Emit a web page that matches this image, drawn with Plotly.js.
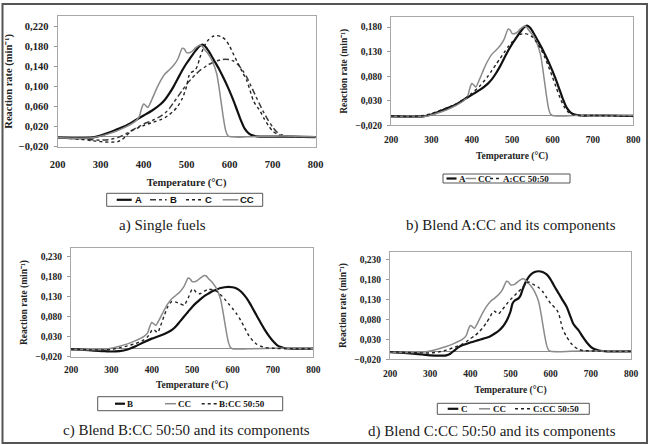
<!DOCTYPE html>
<html>
<head>
<meta charset="utf-8">
<script src="https://cdn.plot.ly/plotly-3.0.1.min.js"></script>
<style>
  html, body { margin: 0; padding: 0; background: #fff; }
  #chart { width: 651px; height: 445px; }
</style>
</head>
<body>
<div id="chart"></div>
<script>
// Reaction rate (min^-1) versus temperature (°C) for single fuels and 50:50 blends.

// --- Single fuels ---
const tA = [200, 250, 280, 300, 320, 340, 360, 380, 400, 420, 440, 450, 460, 470, 480, 490, 500, 510, 520, 530, 537, 545, 555, 565, 575, 585, 595, 605, 615, 625, 635, 645, 655, 670, 700, 750, 800];
const rA = [-0.002, -0.003, -0.002, 0.002, 0.008, 0.015, 0.022, 0.032, 0.042, 0.052, 0.065, 0.074, 0.086, 0.100, 0.116, 0.132, 0.146, 0.158, 0.170, 0.180, 0.183, 0.178, 0.165, 0.150, 0.135, 0.118, 0.100, 0.080, 0.058, 0.035, 0.016, 0.006, 0.002, 0.000, 0.000, 0.000, -0.001];

const tB = [200, 250, 280, 300, 320, 340, 360, 380, 400, 420, 440, 450, 460, 470, 480, 490, 500, 510, 520, 530, 540, 550, 560, 570, 580, 590, 600, 610, 620, 630, 640, 650, 660, 670, 680, 690, 700, 710, 720, 730, 750, 800];
const rB = [-0.002, -0.004, -0.006, -0.007, -0.006, -0.002, 0.006, 0.016, 0.025, 0.032, 0.041, 0.047, 0.056, 0.068, 0.080, 0.092, 0.104, 0.114, 0.123, 0.131, 0.137, 0.143, 0.147, 0.151, 0.153, 0.154, 0.153, 0.150, 0.143, 0.132, 0.118, 0.100, 0.082, 0.064, 0.047, 0.032, 0.019, 0.009, 0.004, 0.001, 0.000, 0.000];

const tC = [200, 250, 280, 300, 320, 340, 350, 360, 370, 380, 400, 420, 440, 450, 460, 470, 480, 490, 500, 505, 510, 520, 525, 530, 540, 550, 560, 570, 580, 590, 600, 610, 620, 630, 640, 650, 655, 660, 665, 670, 680, 690, 700, 710, 720, 740, 800];
const rC = [-0.002, -0.005, -0.008, -0.010, -0.011, -0.010, -0.006, 0.002, 0.010, 0.015, 0.022, 0.028, 0.034, 0.038, 0.044, 0.051, 0.061, 0.076, 0.100, 0.120, 0.127, 0.133, 0.140, 0.155, 0.178, 0.192, 0.199, 0.201, 0.199, 0.193, 0.180, 0.162, 0.145, 0.128, 0.111, 0.085, 0.072, 0.064, 0.058, 0.052, 0.036, 0.022, 0.011, 0.005, 0.002, 0.000, 0.000];

const tCC = [200, 250, 280, 300, 320, 340, 360, 380, 390, 395, 400, 405, 410, 420, 430, 440, 450, 460, 470, 480, 490, 495, 500, 510, 520, 530, 535, 540, 550, 560, 570, 575, 580, 585, 590, 595, 600, 620, 650, 700, 750, 800];
const rCC = [-0.002, -0.003, -0.002, 0.001, 0.006, 0.012, 0.020, 0.030, 0.040, 0.055, 0.065, 0.062, 0.058, 0.075, 0.095, 0.112, 0.125, 0.133, 0.142, 0.155, 0.176, 0.174, 0.167, 0.168, 0.176, 0.182, 0.181, 0.175, 0.165, 0.150, 0.125, 0.100, 0.070, 0.040, 0.015, 0.003, 0.000, -0.001, 0.000, 0.001, 0.001, 0.000];

// --- 50:50 blends ---
const tACC = [200, 250, 280, 300, 320, 340, 360, 380, 400, 420, 440, 450, 460, 470, 480, 490, 500, 510, 520, 530, 540, 550, 560, 570, 580, 590, 600, 610, 620, 630, 640, 650, 670, 700, 800];
const rACC = [-0.001, -0.002, 0.000, 0.004, 0.010, 0.016, 0.023, 0.033, 0.045, 0.060, 0.080, 0.092, 0.104, 0.116, 0.128, 0.140, 0.150, 0.159, 0.165, 0.167, 0.165, 0.160, 0.150, 0.137, 0.120, 0.100, 0.078, 0.055, 0.033, 0.016, 0.006, 0.002, 0.000, 0.000, -0.002];

const tBCC = [200, 250, 280, 300, 320, 340, 360, 380, 390, 400, 405, 410, 415, 420, 430, 440, 450, 460, 470, 480, 490, 500, 505, 510, 520, 530, 540, 550, 560, 570, 580, 590, 600, 610, 620, 630, 640, 650, 660, 670, 680, 700, 750, 800];
const rBCC = [-0.001, -0.003, -0.003, -0.002, 0.002, 0.007, 0.013, 0.022, 0.030, 0.045, 0.048, 0.043, 0.040, 0.052, 0.080, 0.105, 0.118, 0.116, 0.112, 0.108, 0.126, 0.148, 0.147, 0.140, 0.137, 0.143, 0.148, 0.147, 0.143, 0.135, 0.124, 0.112, 0.100, 0.087, 0.071, 0.052, 0.033, 0.020, 0.011, 0.006, 0.003, 0.001, 0.000, 0.000];

const tCCC = [200, 250, 280, 300, 320, 340, 360, 380, 390, 400, 410, 420, 430, 440, 450, 455, 460, 465, 470, 480, 490, 500, 510, 520, 530, 540, 545, 550, 560, 570, 580, 590, 600, 610, 615, 620, 625, 630, 640, 650, 660, 670, 680, 700, 750, 800];
const rCCC = [-0.001, -0.003, -0.004, -0.004, -0.002, 0.003, 0.010, 0.018, 0.024, 0.032, 0.038, 0.047, 0.058, 0.072, 0.088, 0.098, 0.101, 0.097, 0.094, 0.105, 0.118, 0.130, 0.140, 0.150, 0.160, 0.172, 0.174, 0.172, 0.166, 0.160, 0.150, 0.135, 0.120, 0.110, 0.104, 0.095, 0.075, 0.056, 0.036, 0.021, 0.011, 0.005, 0.002, 0.001, 0.000, 0.000];

// Axis ticks and text
const xTicks = [200, 300, 400, 500, 600, 700, 800];
const yTicksA = [-0.02, 0.02, 0.06, 0.10, 0.14, 0.18, 0.22];
const yTicksB = [-0.02, 0.03, 0.08, 0.13, 0.18];
const yTicksCD = [-0.02, 0.03, 0.08, 0.13, 0.18, 0.23];
const xTitle = "Temperature (°C)";
const yTitle = "Reaction rate (min⁻¹)";
const captions = [
  "a) Single fuels",
  "b) Blend A:CC and its components",
  "c) Blend B:CC 50:50 and its components",
  "d) Blend C:CC 50:50 and its components"
];

const W = 651, H = 445;
const px = v => v / W;
const py = v => 1 - v / H;

const SERIF = "Liberation Serif, Times New Roman, serif";
const SANS = "Liberation Sans, Arial, sans-serif";

const styleThick = { color: "#111", width: 2.2, dash: "solid" };
const styleGray = { color: "#8a8a8a", width: 1.5, dash: "solid" };
const styleDot = { color: "#222", width: 1.4, dash: "dot" };
const styleDash = { color: "#3a3a3a", width: 1.5, dash: "6px,3px,3px,3px" };

function line(x, y, name, style, n) {
  return {
    type: "scatter", mode: "lines", x: x, y: y, name: name,
    line: { color: style.color, width: style.width, dash: style.dash, shape: "spline", smoothing: 0.6 },
    xaxis: n === 1 ? "x" : "x" + n,
    yaxis: n === 1 ? "y" : "y" + n,
    showlegend: false,
    hoverinfo: "skip"
  };
}

const traces = [
  line(tA, rA, "A", styleThick, 1),
  line(tB, rB, "B", styleDash, 1),
  line(tC, rC, "C", styleDot, 1),
  line(tCC, rCC, "CC", styleGray, 1),

  line(tA, rA, "A", styleThick, 2),
  line(tCC, rCC, "CC", styleGray, 2),
  line(tACC, rACC, "A:CC 50:50", styleDot, 2),

  line(tB, rB, "B", styleThick, 3),
  line(tCC, rCC, "CC", styleGray, 3),
  line(tBCC, rBCC, "B:CC 50:50", styleDot, 3),

  line(tC, rC, "C", styleThick, 4),
  line(tCC, rCC, "CC", styleGray, 4),
  line(tCCC, rCCC, "C:CC 50:50", styleDot, 4)
];

function xAxis(domain, anchor, fs, labelGap, titleGap) {
  return {
    domain: domain, anchor: anchor, range: [200, 800],
    tickvals: xTicks, ticktext: xTicks.map(String), ticks: "",
    showline: true, mirror: true, linecolor: "#a8a8a8", linewidth: 1,
    showgrid: false, zeroline: false, ticklabelstandoff: labelGap,
    tickfont: { family: SERIF, size: fs, color: "#222", weight: "bold" },
    title: { text: xTitle, standoff: titleGap, font: { family: SERIF, size: fs, color: "#222", weight: "bold" } }
  };
}

function yAxis(domain, anchor, range, ticks, fs, titleGap) {
  return {
    domain: domain, anchor: anchor, range: range,
    tickvals: ticks, tickformat: ".3f", ticks: "outside", ticklen: 3, tickcolor: "#999",
    showline: true, mirror: true, linecolor: "#a8a8a8", linewidth: 1,
    showgrid: false, zeroline: true, zerolinecolor: "#8c8c8c", zerolinewidth: 1,
    ticklabelstandoff: 3,
    tickfont: { family: SERIF, size: fs, color: "#222", weight: "bold" },
    title: { text: yTitle, standoff: titleGap, font: { family: SERIF, size: fs, color: "#222", weight: "bold" } }
  };
}

// Legend boxes: frame, key samples and labels for each panel
const legends = [
  { box: [106.7, 262.7, 193.3, 206.3], cy: 199.8, font: { family: SANS, size: 9.5, color: "#111", weight: "bold" },
    items: [[116.7, 131.7, 133.5, 0], [150, 166.7, 168.5, 1], [186, 202.7, 203.8, 2], [222.7, 238.3, 239, 3]] },
  { box: [443, 570, 174, 183], cy: 178.5, font: { family: SERIF, size: 9, color: "#111", weight: "bold" },
    items: [[446.5, 456.5, 457.5, 4], [465.5, 476, 477, 5], [490, 500, 502, 6]] },
  { box: [97.7, 282.7, 396.7, 410.7], cy: 403.7, font: { family: SERIF, size: 9, color: "#111", weight: "bold" },
    items: [[115, 125, 126, 7], [165, 176, 176.7, 8], [201.7, 216.7, 218.3, 9]] },
  { box: [437.3, 589.3, 403.3, 414.3], cy: 408.8, font: { family: SERIF, size: 9, color: "#111", weight: "bold" },
    items: [[447.7, 458.3, 460, 10], [479, 490, 491.7, 11], [515, 531.7, 532.3, 12]] }
];

const shapes = [{
  type: "rect", xref: "paper", yref: "paper",
  x0: px(2.5), x1: px(647), y0: py(443), y1: py(4),
  line: { color: "#555", width: 2 }, layer: "below"
}];
const annotations = [
  [162.5, 225], [511, 225], [186.5, 430], [492, 431.5]
].map((p, i) => ({
  text: captions[i], xref: "paper", yref: "paper", x: px(p[0]), y: py(p[1]),
  xanchor: "center", yanchor: "middle", showarrow: false,
  font: { family: SERIF, size: 15, color: "#1a1a1a" }
}));

legends.forEach(lg => {
  shapes.push({
    type: "rect", xref: "paper", yref: "paper",
    x0: px(lg.box[0]), x1: px(lg.box[1]), y0: py(lg.box[3]), y1: py(lg.box[2]),
    line: { color: "#555", width: 1 }, fillcolor: "#fff", layer: "above"
  });
  lg.items.forEach(it => {
    const tr = traces[it[3]];
    shapes.push({
      type: "line", xref: "paper", yref: "paper",
      x0: px(it[0]), x1: px(it[1]), y0: py(lg.cy), y1: py(lg.cy),
      line: { color: tr.line.color, width: tr.line.width, dash: tr.line.dash }, layer: "above"
    });
    annotations.push({
      text: tr.name, xref: "paper", yref: "paper", x: px(it[2]), y: py(lg.cy),
      xanchor: "left", yanchor: "middle", showarrow: false, borderpad: 0,
      font: lg.font
    });
  });
});

const layout = {
  width: W, height: H,
  margin: { l: 0, r: 0, t: 0, b: 0 },
  paper_bgcolor: "#fff", plot_bgcolor: "#fff",
  separators: ",.",
  showlegend: false,
  xaxis: xAxis([px(57.5), px(315.7)], "y", 10.5, 8, 9),
  yaxis: yAxis([py(146.7), py(16)], "x", [-0.02, 0.24], yTicksA, 10.5, 4),
  xaxis2: xAxis([px(391), px(633.3)], "y2", 9.5, 5, 8),
  yaxis2: yAxis([py(125.3), py(17.3)], "x2", [-0.02, 0.20], yTicksB, 9.5, 5),
  xaxis3: xAxis([px(71), px(313.3)], "y3", 9.5, 4, 7),
  yaxis3: yAxis([py(356.7), py(248.3)], "x3", [-0.02, 0.25], yTicksCD, 9.5, 5),
  xaxis4: xAxis([px(390), px(631)], "y4", 9.5, 5, 8),
  yaxis4: yAxis([py(359.3), py(251.7)], "x4", [-0.02, 0.25], yTicksCD, 9.5, 5),
  annotations: annotations,
  shapes: shapes
};

Plotly.newPlot("chart", traces, layout, { staticPlot: true, displayModeBar: false });
</script>
</body>
</html>
